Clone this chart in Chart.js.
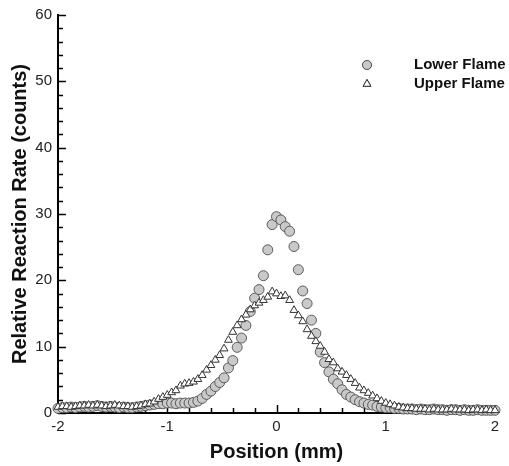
<!DOCTYPE html>
<html>
<head>
<meta charset="utf-8">
<script src="https://cdn.jsdelivr.net/npm/chart.js@4.4.1/dist/chart.umd.min.js"></script>
<style>
  html, body { margin: 0; padding: 0; background: #fff; }
  canvas { display: block; }
</style>
</head>
<body>
<canvas id="profile" width="509" height="466"></canvas>
<script>
// position across the burner gap (mm)
const positions = [
  -2.00, -1.96, -1.92, -1.88, -1.84, -1.80, -1.76, -1.72, -1.68, -1.64,
  -1.60, -1.56, -1.52, -1.48, -1.44, -1.40, -1.36, -1.32, -1.28, -1.24,
  -1.20, -1.16, -1.12, -1.08, -1.04, -1.00, -0.96, -0.92, -0.88, -0.84,
  -0.80, -0.76, -0.72, -0.68, -0.64, -0.60, -0.56, -0.52, -0.48, -0.44,
  -0.40, -0.36, -0.32, -0.28, -0.24, -0.20, -0.16, -0.12, -0.08, -0.04,
  0.00, 0.04, 0.08, 0.12, 0.16, 0.20, 0.24, 0.28, 0.32, 0.36,
  0.40, 0.44, 0.48, 0.52, 0.56, 0.60, 0.64, 0.68, 0.72, 0.76,
  0.80, 0.84, 0.88, 0.92, 0.96, 1.00, 1.04, 1.08, 1.12, 1.16,
  1.20, 1.24, 1.28, 1.32, 1.36, 1.40, 1.44, 1.48, 1.52, 1.56,
  1.60, 1.64, 1.68, 1.72, 1.76, 1.80, 1.84, 1.88, 1.92, 1.96,
  2.00
];

const lowerFlame = [
  0.7, 0.8, 0.8, 0.9, 0.8, 0.9, 1.0, 0.9, 1.0, 1.1,
  1.0, 0.9, 1.0, 0.9, 0.8, 0.9, 0.8, 0.8, 0.9, 1.0,
  1.1, 1.2, 1.3, 1.4, 1.4, 1.5, 1.5, 1.4, 1.5, 1.5,
  1.5, 1.6, 1.8, 2.2, 2.8, 3.3, 4.0, 4.6, 5.3, 6.8,
  7.9, 9.9, 11.3, 13.2, 15.3, 17.3, 18.6, 20.7, 24.6, 28.4,
  29.6, 29.1, 28.1, 27.4, 25.1, 21.6, 18.4, 16.5, 14.0, 12.0,
  9.2, 7.6, 6.2, 5.1, 4.4, 3.5, 2.8, 2.4, 2.0, 1.7,
  1.5, 1.3, 1.2, 1.0, 0.9, 0.8, 0.8, 0.7, 0.7, 0.6,
  0.6, 0.6, 0.5, 0.6, 0.5, 0.5, 0.6, 0.5, 0.5, 0.4,
  0.5, 0.5, 0.4, 0.5, 0.4, 0.4, 0.5, 0.4, 0.4, 0.4,
  0.4
];

const upperFlame = [
  0.9, 1.0, 1.0, 0.9, 1.0, 1.1, 1.1, 1.2, 1.1, 1.2,
  1.1, 1.0, 1.1, 1.2, 1.1, 1.0, 1.0, 0.9, 1.0, 1.1,
  1.3, 1.4, 1.7, 2.1, 2.4, 2.7, 3.1, 3.4, 4.1, 4.4,
  4.5, 4.7, 5.1, 5.7, 6.5, 7.2, 8.0, 8.7, 9.7, 11.0,
  12.2, 13.2, 14.1, 14.8, 15.6, 16.2, 16.6, 17.0, 17.5, 18.3,
  18.0, 17.6, 17.7, 17.0, 15.5, 14.7, 13.8, 12.6, 11.6, 10.8,
  10.1, 9.2, 8.1, 7.6, 6.7, 6.2, 5.7, 5.1, 4.5, 3.8,
  3.4, 3.0, 2.6, 2.2, 1.8, 1.5, 1.3, 1.1, 0.9, 0.8,
  0.7, 0.7, 0.6, 0.6, 0.6, 0.5, 0.6, 0.5, 0.5, 0.5,
  0.6, 0.5, 0.5, 0.5, 0.4, 0.5, 0.5, 0.4, 0.5, 0.4,
  0.4
];

const seriesNames = ['Lower Flame', 'Upper Flame'];

const FONT = '"Liberation Sans", Arial, Helvetica, sans-serif';

function points(ys) {
  return positions.map((x, i) => ({ x: x, y: ys[i] }));
}

// tecplot-style inward ticks, major + minor
const innerTicks = {
  id: 'innerTicks',
  beforeDatasetsDraw(chart) {
    const { ctx, chartArea: area, scales: { x, y } } = chart;
    ctx.save();
    ctx.strokeStyle = '#000';
    ctx.lineWidth = 1.5;
    ctx.beginPath();
    for (let i = 0; i <= 20; i++) {
      const v = -2 + i * 0.2;
      const px = Math.round(x.getPixelForValue(v)) + 0.5;
      const len = i % 5 === 0 ? 8 : 5;
      ctx.moveTo(px, area.bottom);
      ctx.lineTo(px, area.bottom - len);
    }
    for (let v = 0; v <= 60; v += 2) {
      const py = Math.round(y.getPixelForValue(v)) + 0.5;
      const len = v % 10 === 0 ? 8 : 5;
      ctx.moveTo(area.left, py);
      ctx.lineTo(area.left + len, py);
    }
    ctx.stroke();
    ctx.restore();
  }
};

// legend in the upper right of the plot
const flameLegend = {
  id: 'flameLegend',
  afterDraw(chart) {
    const { ctx } = chart;
    const rows = [65, 84];
    ctx.save();
    chart.data.datasets.forEach((ds, i) => {
      const cy = rows[i];
      ctx.fillStyle = ds.backgroundColor;
      ctx.strokeStyle = ds.borderColor;
      ctx.lineWidth = 1;
      Chart.helpers.drawPoint(ctx, { pointStyle: ds.pointStyle, radius: 4.5, borderWidth: 1 }, 367, cy);
      ctx.fill();
      ctx.stroke();
      ctx.fillStyle = '#111';
      ctx.font = 'bold 15px ' + FONT;
      ctx.textBaseline = 'middle';
      ctx.textAlign = 'left';
      ctx.fillText(ds.label, 414, cy);
    });
    ctx.restore();
  }
};

const ctx = document.getElementById('profile').getContext('2d');
new Chart(ctx, {
  type: 'scatter',
  data: {
    datasets: [
      {
        label: seriesNames[0],
        data: points(lowerFlame),
        pointStyle: 'circle',
        pointRadius: 5,
        backgroundColor: '#c9c9c9',
        borderColor: '#5a5a5a',
        borderWidth: 1,
        clip: false,
        order: 2,
      },
      {
        label: seriesNames[1],
        data: points(upperFlame),
        pointStyle: 'triangle',
        pointRadius: 4.5,
        backgroundColor: '#ffffff',
        borderColor: '#333333',
        borderWidth: 1,
        clip: false,
        order: 1,
      },
    ],
  },
  options: {
    responsive: false,
    animation: false,
    layout: { padding: { top: 14, right: 14, left: 0, bottom: 0 } },
    plugins: {
      legend: { display: false },
      tooltip: { enabled: false },
    },
    scales: {
      x: {
        type: 'linear',
        min: -2,
        max: 2,
        grid: { display: false, drawTicks: false },
        border: { display: true, color: '#000', width: 2 },
        ticks: {
          stepSize: 1,
          padding: 5,
          color: '#222',
          font: { family: FONT, size: 15 },
        },
        title: {
          display: true,
          text: 'Position (mm)',
          color: '#111',
          font: { family: FONT, size: 20, weight: 'bold' },
          padding: { top: 0, bottom: 2 },
        },
        afterFit(scale) { scale.height = 53; },
      },
      y: {
        min: 0,
        max: 60,
        grid: { display: false, drawTicks: false },
        border: { display: true, color: '#000', width: 2 },
        ticks: {
          stepSize: 10,
          padding: 6,
          color: '#222',
          font: { family: FONT, size: 15 },
        },
        title: {
          display: true,
          text: 'Relative Reaction Rate (counts)',
          color: '#111',
          font: { family: FONT, size: 20, weight: 'bold' },
          padding: { top: 8, bottom: 0 },
        },
        afterFit(scale) { scale.width = 58; },
      },
    },
  },
  plugins: [innerTicks, flameLegend],
});
</script>
</body>
</html>
